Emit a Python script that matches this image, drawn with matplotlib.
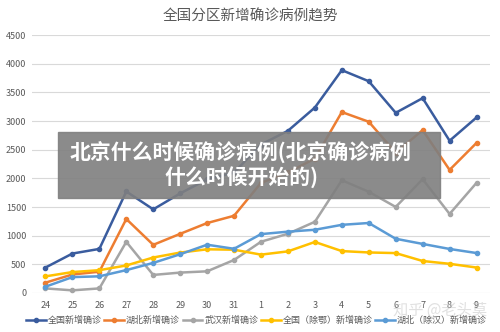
import matplotlib.pyplot as plt
from matplotlib.patches import Rectangle

plt.rcParams['font.family'] = ['Noto Sans CJK SC', 'DejaVu Sans']

dates = ["24", "25", "26", "27", "28", "29", "30", "31", "1", "2", "3",
         "4", "5", "6", "7", "8", "9"]

national = [444, 688, 769, 1771, 1459, 1737, 1982, 2102, 2590, 2829, 3235,
            3887, 3694, 3143, 3399, 2656, 3062]
hubei = [180, 323, 371, 1291, 840, 1032, 1220, 1347, 1921, 2103, 2345,
         3156, 2987, 2447, 2841, 2147, 2618]
wuhan = [80, 46, 80, 892, 315, 356, 378, 576, 894, 1033, 1242,
         1967, 1766, 1501, 1985, 1379, 1921]
national_ex_hubei = [290, 365, 398, 480, 619, 705, 762, 755, 669, 726, 890,
                     731, 707, 696, 558, 509, 444]
hubei_ex_wuhan = [110, 277, 291, 399, 525, 676, 842, 771, 1027, 1070, 1103,
                  1189, 1221, 946, 856, 768, 697]

series = [
    ("全国新增确诊", national, "#3A5C9E"),
    ("湖北新增确诊", hubei, "#ED7D31"),
    ("武汉新增确诊", wuhan, "#A5A5A5"),
    ("全国（除鄂）新增确诊", national_ex_hubei, "#FFC000"),
    ("湖北（除汉）新增确诊", hubei_ex_wuhan, "#5B9BD5"),
]

fig = plt.figure(figsize=(5, 3.32), dpi=100)
ax = fig.add_axes([0.064, 0.1175, 0.916, 0.777])

x = list(range(len(dates)))
for name, vals, color in series:
    ax.plot(x, vals, color=color, lw=1.8, marker="o", ms=3, label=name)

ax.set_xlim(-0.5, len(dates) - 0.5)
ax.set_ylim(0, 4500)
ax.set_yticks(range(0, 4501, 500))
ax.set_xticks(x)
ax.set_xticklabels(dates)
ax.tick_params(axis="both", length=0, labelsize=6.5, colors="#595959")
ax.tick_params(axis="x", pad=6)
ax.tick_params(axis="y", pad=4)
ax.grid(axis="y", color="#D9D9D9", lw=0.8)
ax.set_axisbelow(True)
for s in ax.spines.values():
    s.set_visible(False)

fig.text(0.5, 0.952, "全国分区新增确诊病例趋势", ha="center", va="center",
         fontsize=10.5, color="#595959")

ax.legend(loc="upper center", bbox_to_anchor=(0.49, -0.075), ncol=5,
          frameon=False, fontsize=6.5, handlelength=2.2, handletextpad=0.2,
          columnspacing=0.3, labelcolor="#595959", borderaxespad=0)

# overlay banner
fig.patches.append(Rectangle((0.116, 0.404), 0.764, 0.198,
                             transform=fig.transFigure, color="#7F7F7F",
                             alpha=0.9, zorder=10))
fig.text(0.482, 0.503, "北京什么时候确诊病例(北京确诊病例\n什么时候开始的)",
         ha="center", va="center", fontsize=15, fontweight="bold",
         color="white", linespacing=1.25, zorder=11)

# watermark
fig.text(0.88, 0.066, "知乎 @老头莫", ha="center", va="center", fontsize=11,
         color="#C8C8C8", alpha=0.55, zorder=11)

fig.savefig("out.png", dpi=100)
